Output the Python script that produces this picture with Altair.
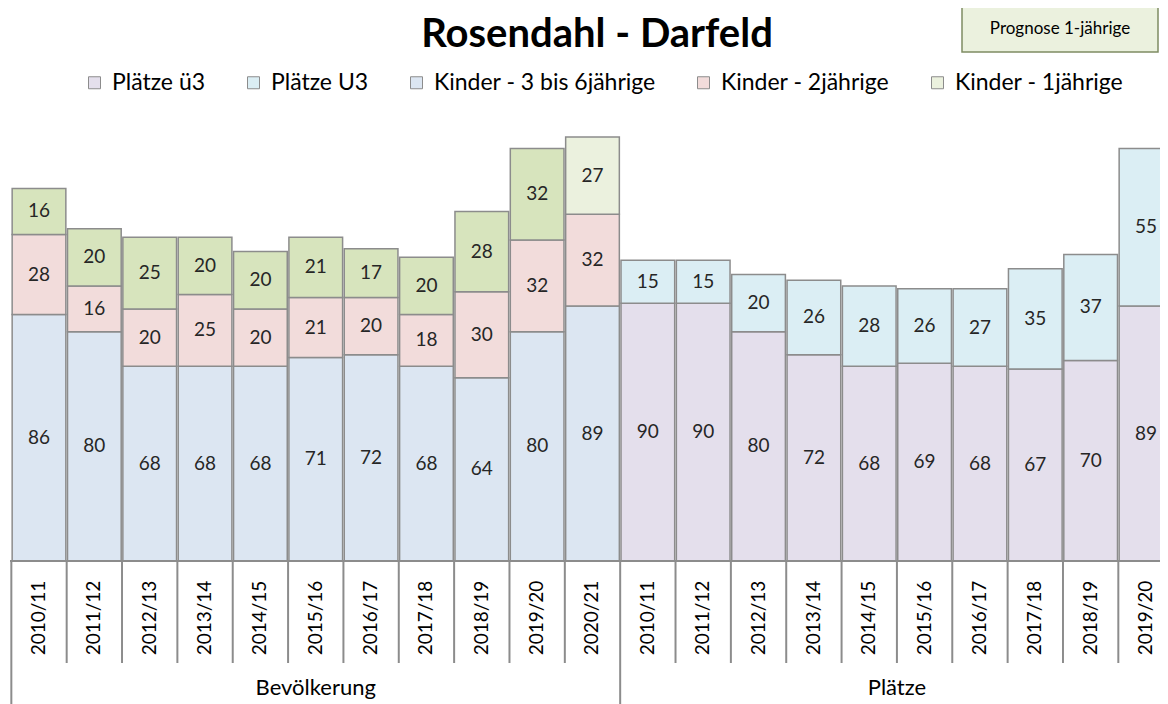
import altair as alt
import pandas as pd

# ---- data ----
years_b = ["2010/11", "2011/12", "2012/13", "2013/14", "2014/15", "2015/16",
           "2016/17", "2017/18", "2018/19", "2019/20", "2020/21"]
kinder_3_6 = [86, 80, 68, 68, 68, 71, 72, 68, 64, 80, 89]
kinder_2 = [28, 16, 20, 25, 20, 21, 20, 18, 30, 32, 32]
kinder_1 = [16, 20, 25, 20, 20, 21, 17, 20, 28, 32, 27]
prognose_1 = [False] * 10 + [True]

years_p = ["2010/11", "2011/12", "2012/13", "2013/14", "2014/15", "2015/16",
           "2016/17", "2017/18", "2018/19", "2019/20"]
plaetze_ue3 = [90, 90, 80, 72, 68, 69, 68, 67, 70, 89]
plaetze_u3 = [15, 15, 20, 26, 28, 26, 27, 35, 37, 55]

groups = ["Bevölkerung", "Plätze"]
legend_series = ["Plätze ü3", "Plätze U3", "Kinder - 3 bis 6jährige",
                 "Kinder - 2jährige", "Kinder - 1jährige"]
ist_series = "Kinder - 1jährige (Ist)"
colors = ["#e4dfec", "#dbeef4", "#dce6f2", "#f2dcdb", "#ebf1de", "#d7e4bd"]

FONT = "Lato"

# ---- build tables ----
rows, cats = [], []
idx = 0
for i, yr in enumerate(years_b):
    y0 = 0
    segs = [("Kinder - 3 bis 6jährige", kinder_3_6[i]),
            ("Kinder - 2jährige", kinder_2[i]),
            ("Kinder - 1jährige" if prognose_1[i] else ist_series, kinder_1[i])]
    for s, v in segs:
        rows.append(dict(idx=idx, year=yr, series=s, value=v, y0=y0, y1=y0 + v))
        y0 += v
    cats.append(dict(idx=idx, year=yr, group=groups[0]))
    idx += 1
for i, yr in enumerate(years_p):
    y0 = 0
    for s, v in [("Plätze ü3", plaetze_ue3[i]), ("Plätze U3", plaetze_u3[i])]:
        rows.append(dict(idx=idx, year=yr, series=s, value=v, y0=y0, y1=y0 + v))
        y0 += v
    cats.append(dict(idx=idx, year=yr, group=groups[1]))
    idx += 1

df = pd.DataFrame(rows)
cat_df = pd.DataFrame(cats)
grp_df = cat_df.groupby("group", as_index=False)["idx"].agg(["min", "max"]).reset_index()
grp_df["center"] = (grp_df["min"] + grp_df["max"]) / 2
grp_df["start"] = grp_df["min"] - 0.5

inner = cat_df[~cat_df["idx"].isin(grp_df["max"].tolist())].copy()
inner["b"] = inner["idx"] + 0.5

xs = alt.Scale(domain=[-0.524, 20.253], nice=False, zero=False)
ys = alt.Scale(domain=[-49.91, 193.02], nice=False, zero=False)
GRID = "#8c8c8c"

bars = alt.Chart(df).mark_rect(stroke=GRID, strokeWidth=1.5, clip=True).transform_calculate(
    xa="datum.idx - 0.485", xb="datum.idx + 0.485"
).encode(
    x=alt.X("xa:Q", scale=xs, axis=None),
    x2="xb:Q",
    y=alt.Y("y0:Q", scale=ys, axis=None),
    y2="y1:Q",
    color=alt.Color(
        "series:N",
        scale=alt.Scale(domain=legend_series + [ist_series], range=colors),
        legend=alt.Legend(
            values=legend_series, orient="none", legendX=73, legendY=63,
            direction="horizontal", columns=5, title=None, padding=0,
            symbolType="square", symbolSize=144, symbolStrokeColor=GRID,
            symbolStrokeWidth=1, labelFont=FONT, labelFontSize=23,
            labelColor="#000000", labelOffset=6, columnPadding=36, labelLimit=0,
        ),
    ),
)

values = alt.Chart(df).mark_text(font=FONT, fontSize=19, color="#262626").transform_calculate(
    ym="(datum.y0 + datum.y1) / 2"
).encode(x=alt.X("idx:Q", scale=xs), y=alt.Y("ym:Q", scale=ys), text="value:Q")

baseline = alt.Chart(pd.DataFrame({"v": [0]})).mark_rule(color=GRID, strokeWidth=2).encode(
    y=alt.Y("v:Q", scale=ys)
)

seps = alt.Chart(inner).mark_rule(color=GRID, strokeWidth=2).encode(
    x=alt.X("b:Q", scale=xs), y=alt.value(553), y2=alt.value(655)
)
gseps = alt.Chart(grp_df).mark_rule(color=GRID, strokeWidth=2).encode(
    x=alt.X("start:Q", scale=xs), y=alt.value(553), y2=alt.value(696)
)

xlabels = alt.Chart(cat_df).mark_text(
    font=FONT, fontSize=19, angle=270, align="center", baseline="middle", color="#000000"
).encode(x=alt.X("idx:Q", scale=xs), y=alt.value(610), text="year:N")

glabels = alt.Chart(grp_df).mark_text(
    font=FONT, fontSize=22, align="center", baseline="middle", color="#000000"
).encode(x=alt.X("center:Q", scale=xs), y=alt.value(680), text="group:N")

title_df = pd.DataFrame({"t": ["Rosendahl - Darfeld"]})
title = alt.Chart(title_df).mark_text(
    font=FONT, fontSize=40, fontWeight="bold", align="center", baseline="middle", color="#000000"
).encode(x=alt.value(587), y=alt.value(27), text="t:N")

box_df = pd.DataFrame({"t": ["Prognose 1-jährige"]})
box = alt.Chart(box_df).mark_rect(fill="#ebf1de", stroke="#7f8c63", strokeWidth=1.5).encode(
    x=alt.value(952), x2=alt.value(1148), y=alt.value(-2), y2=alt.value(44)
)
box_text = alt.Chart(box_df).mark_text(
    font=FONT, fontSize=17, align="center", baseline="middle", color="#000000"
).encode(x=alt.value(1050), y=alt.value(21), text="t:N")

chart = alt.layer(
    bars, values, baseline, seps, gseps, xlabels, glabels, title, box, box_text
).properties(
    width=1150, height=696,
    autosize=alt.AutoSizeParams(type="none"),
    padding={"left": 2, "top": 0, "right": 0, "bottom": 0},
    background="white",
).configure_view(stroke=None)

chart.save("out.html", embed_options={"renderer": "svg", "actions": False})
